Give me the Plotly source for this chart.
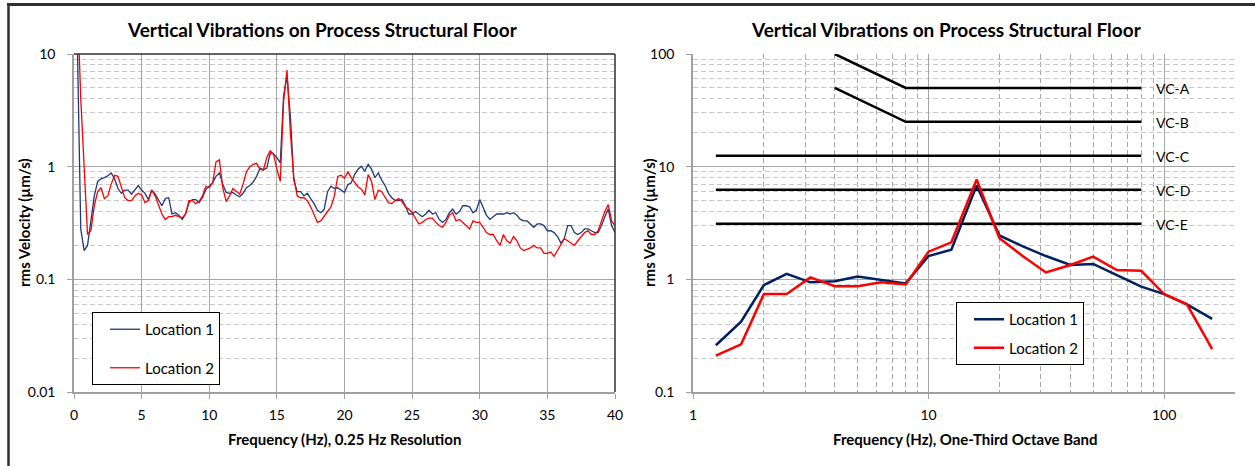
import math
import plotly.graph_objects as go

W, H = 1255, 466
def px(x):
    return x / W
def py(y):
    return 1 - y / H

# ---------------- data: narrow-band spectrum (0.25 Hz resolution) ----------------
freq_lin = [i * 0.25 for i in range(161)]
loc1_lin = [
    40, 12, 0.28, 0.18, 0.2, 0.33, 0.55, 0.74, 0.78, 0.8, 0.83, 0.88, 0.78, 0.64, 0.58, 0.62, 0.62, 0.57, 0.62, 0.68,   # 0-4.75
    0.62, 0.58, 0.51, 0.62, 0.57, 0.5, 0.45, 0.52, 0.53, 0.38, 0.39, 0.37, 0.34, 0.38, 0.48, 0.51, 0.51, 0.48, 0.53, 0.63,  # 5-9.75
    0.68, 0.72, 0.82, 0.88, 0.7, 0.59, 0.58, 0.59, 0.56, 0.54, 0.58, 0.65, 0.68, 0.73, 0.82, 0.97, 0.94, 0.97, 1.3, 1.3,  # 10-14.75
    1.2, 1.08, 4.3, 6.3, 2.8, 0.76, 0.6, 0.6, 0.55, 0.58, 0.52, 0.47, 0.41, 0.39, 0.42, 0.6, 0.67, 0.64, 0.65, 0.62,  # 15-19.75
    0.59, 0.69, 0.72, 0.85, 0.95, 1.01, 0.91, 1.05, 0.95, 0.8, 0.88, 0.76, 0.68, 0.58, 0.53, 0.5, 0.5, 0.51, 0.45, 0.38,  # 20-24.75
    0.38, 0.4, 0.38, 0.36, 0.38, 0.41, 0.38, 0.39, 0.34, 0.32, 0.34, 0.39, 0.42, 0.38, 0.4, 0.45, 0.45, 0.44, 0.39, 0.41,  # 25-29.75
    0.51, 0.44, 0.37, 0.34, 0.36, 0.38, 0.38, 0.38, 0.39, 0.38, 0.39, 0.37, 0.34, 0.33, 0.33, 0.31, 0.29, 0.31, 0.31, 0.3,  # 30-34.75
    0.27, 0.27, 0.26, 0.24, 0.21, 0.23, 0.3, 0.3, 0.26, 0.25, 0.26, 0.28, 0.28, 0.27, 0.26, 0.26, 0.3, 0.36, 0.42, 0.3,  # 35-39.75
    0.26,
]
loc2_lin = [
    40, 30, 4.0, 0.9, 0.25, 0.27, 0.45, 0.6, 0.65, 0.52, 0.55, 0.7, 0.84, 0.82, 0.65, 0.53, 0.5, 0.5, 0.55, 0.58,  # 0-4.75
    0.56, 0.48, 0.5, 0.62, 0.55, 0.46, 0.38, 0.34, 0.36, 0.36, 0.37, 0.36, 0.35, 0.38, 0.5, 0.5, 0.47, 0.49, 0.55, 0.67,  # 5-9.75
    0.65, 0.72, 1.1, 1.15, 0.65, 0.49, 0.55, 0.64, 0.6, 0.57, 0.7, 0.9, 1.0, 1.05, 1.07, 0.95, 0.93, 1.2, 1.38, 1.3,  # 10-14.75
    0.95, 0.74, 3.9, 7.2, 2.0, 0.8, 0.55, 0.53, 0.53, 0.5, 0.44, 0.38, 0.32, 0.33, 0.36, 0.4, 0.44, 0.55, 0.82, 0.84,  # 15-19.75
    0.79, 0.9, 0.8, 0.72, 0.66, 0.63, 0.56, 0.85, 0.74, 0.51, 0.62, 0.6, 0.53, 0.48, 0.47, 0.5, 0.52, 0.49, 0.44, 0.42,  # 20-24.75
    0.39, 0.35, 0.31, 0.32, 0.34, 0.35, 0.35, 0.32, 0.3, 0.29, 0.32, 0.37, 0.39, 0.33, 0.34, 0.32, 0.3, 0.28, 0.33, 0.32,  # 25-29.75
    0.32, 0.29, 0.26, 0.25, 0.25, 0.22, 0.2, 0.25, 0.22, 0.21, 0.24, 0.22, 0.19, 0.18, 0.185, 0.19, 0.2, 0.19, 0.19, 0.17,  # 30-34.75
    0.17, 0.175, 0.16, 0.18, 0.2, 0.23, 0.22, 0.21, 0.2, 0.22, 0.24, 0.26, 0.27, 0.25, 0.25, 0.27, 0.33, 0.4, 0.46, 0.33,  # 35-39.75
    0.3,
]

# ---------------- data: one-third octave band spectrum ----------------
band_freq = [1.25, 1.6, 2, 2.5, 3.15, 4, 5, 6.3, 8, 10, 12.5, 16, 20, 25, 31.5, 40, 50, 63, 80, 100, 125, 160]
loc1_band = [0.26, 0.42, 0.89, 1.12, 0.94, 0.96, 1.06, 0.99, 0.92, 1.61, 1.83, 6.8, 2.45, 1.97, 1.61, 1.34, 1.37, 1.09, 0.86, 0.74, 0.6, 0.445]
loc2_band = [0.21, 0.265, 0.74, 0.74, 1.04, 0.87, 0.87, 0.94, 0.9, 1.76, 2.13, 7.7, 2.32, 1.62, 1.15, 1.34, 1.59, 1.21, 1.19, 0.74, 0.6, 0.24]

# vibration criteria curves
vc_names = ["VC-A", "VC-B", "VC-C", "VC-D", "VC-E"]
vc_freqs = [[4, 8, 80], [4, 8, 80], [1.25, 80], [1.25, 80], [1.25, 80]]
vc_values = [[100, 50, 50], [50, 25, 25], [12.5, 12.5], [6.25, 6.25], [3.12, 3.12]]

title_text = "Vertical Vibrations on Process Structural Floor"
ytitle = "rms Velocity (µm/s)"
xtitle_left = "Frequency (Hz), 0.25 Hz Resolution"
xtitle_right = "Frequency (Hz), One-Third Octave Band"

FONT = "Lato, 'Open Sans', sans-serif"
NAVY_L = "#1f3a78"
NAVY_R = "#002060"
RED = "#ff0000"
MAJ = "#a6a6a6"
MIN = "#c8c8c8"
AX = "#a0a0a0"

fig = go.Figure()

fig.add_trace(go.Scatter(x=freq_lin, y=loc1_lin, mode="lines", name="Location 1",
                         line=dict(color=NAVY_L, width=1.3), xaxis="x", yaxis="y",
                         legend="legend", legendgroup="a"))
fig.add_trace(go.Scatter(x=freq_lin, y=loc2_lin, mode="lines", name="Location 2",
                         line=dict(color=RED, width=1.3), xaxis="x", yaxis="y",
                         legend="legend", legendgroup="b"))

for n, f, v in zip(vc_names, vc_freqs, vc_values):
    fig.add_trace(go.Scatter(x=f, y=v, mode="lines", name=n, showlegend=False,
                             line=dict(color="black", width=2.5), xaxis="x2", yaxis="y2"))
    fig.add_annotation(x=math.log10(f[-1]), y=math.log10(v[-1]), xref="x2", yref="y2", text=n,
                       showarrow=False, xanchor="left", yanchor="middle", xshift=13, yshift=-1,
                       font=dict(family=FONT, size=14, color="black"))

fig.add_trace(go.Scatter(x=band_freq, y=loc1_band, mode="lines", name="Location 1",
                         line=dict(color=NAVY_R, width=2.5), xaxis="x2", yaxis="y2",
                         legend="legend2", legendgroup="c"))
fig.add_trace(go.Scatter(x=band_freq, y=loc2_band, mode="lines", name="Location 2",
                         line=dict(color=RED, width=2.5), xaxis="x2", yaxis="y2",
                         legend="legend2", legendgroup="d"))

def dec_minor(lo, hi):
    out = []
    e = lo
    while e < hi:
        out += [m * 10 ** e for m in range(2, 10)]
        e += 1
    return out

tickfont = dict(family=FONT, size=14, color="black")
common = dict(showline=True, linecolor=AX, linewidth=1.5, ticks="outside", ticklen=5,
              tickcolor=AX, tickwidth=1, zeroline=False, tickfont=tickfont,
              gridcolor=MAJ, gridwidth=1, showgrid=True, automargin=False)

fig.update_layout(
    width=W, height=H, autosize=False,
    margin=dict(l=0, r=0, t=0, b=0, pad=0),
    paper_bgcolor="white", plot_bgcolor="white",
    font=dict(family=FONT, color="black"),
    xaxis=dict(domain=[px(74), px(615)], range=[0, 40], tickvals=[0, 5, 10, 15, 20, 25, 30, 35, 40],
               anchor="y", ticklabelstandoff=4, **common),
    yaxis=dict(domain=[py(392), py(54)], type="log", range=[-2, 1],
               tickvals=[0.01, 0.1, 1, 10], ticktext=["0.01", "0.1", "1", "10"],
               anchor="x", ticklabelstandoff=9,
               minor=dict(tickvals=dec_minor(-2, 1), showgrid=True, gridcolor=MIN,
                          griddash="5px,3px", gridwidth=1, ticks=""),
               **common),
    xaxis2=dict(domain=[px(693), px(1235)], type="log", range=[0, 2.30103],
                tickvals=[1, 10, 100], ticktext=["1", "10", "100"], anchor="y2",
                ticklabelstandoff=4,
                minor=dict(tickvals=dec_minor(0, 3)[:17], showgrid=True, gridcolor=MAJ,
                           griddash="5px,3px", gridwidth=1, ticks=""),
                **common),
    yaxis2=dict(domain=[py(392), py(54)], type="log", range=[-1, 2],
                tickvals=[0.1, 1, 10, 100], ticktext=["0.1", "1", "10", "100"],
                anchor="x2", ticklabelstandoff=9,
                minor=dict(tickvals=dec_minor(-1, 2), showgrid=True, gridcolor=MIN,
                           griddash="5px,3px", gridwidth=1, ticks=""),
                **common),
    legend=dict(x=px(92), y=py(312), xanchor="left", yanchor="top",
                bgcolor="white", bordercolor="black", borderwidth=1,
                font=dict(family=FONT, size=15, color="black"),
                tracegroupgap=16, indentation=12, itemwidth=30),
    legend2=dict(x=px(956), y=py(302), xanchor="left", yanchor="top",
                 bgcolor="white", bordercolor="black", borderwidth=1,
                 font=dict(family=FONT, size=15, color="black"),
                 tracegroupgap=6, indentation=12, itemwidth=30),
    showlegend=True,
)

# plot-area border (dark top/right) on the left chart
fig.add_shape(type="line", xref="x domain", yref="y domain", x0=0, x1=1, y0=1, y1=1,
              line=dict(color="#303030", width=1.5), layer="above")
fig.add_shape(type="line", xref="x domain", yref="y domain", x0=1, x1=1, y0=0, y1=1,
              line=dict(color="#303030", width=1.5), layer="above")
# chart-area outer frame (top and left edges)
fig.add_shape(type="line", xref="paper", yref="paper", x0=px(7), x1=1, y0=py(4.5), y1=py(4.5),
              line=dict(color="#303030", width=3), layer="above")
fig.add_shape(type="line", xref="paper", yref="paper", x0=px(8.5), x1=px(8.5), y0=0, y1=py(4),
              line=dict(color="#303030", width=2.5), layer="above")

ttl = dict(family=FONT, size=19, color="black")
axt = dict(family=FONT, size=15, color="black")
for cx in (322, 946):
    fig.add_annotation(x=px(cx), y=py(29), xref="paper", yref="paper", text="<b>" + title_text + "</b>",
                       showarrow=False, xanchor="center", yanchor="middle", font=ttl)
for cx in (24, 649):
    fig.add_annotation(x=px(cx), y=py(223), xref="paper", yref="paper", text="<b>" + ytitle + "</b>",
                       showarrow=False, xanchor="center", yanchor="middle", textangle=-90, font=axt)
fig.add_annotation(x=px(344), y=py(439), xref="paper", yref="paper", text="<b>" + xtitle_left + "</b>",
                   showarrow=False, xanchor="center", yanchor="middle", font=axt)
fig.add_annotation(x=px(965), y=py(439), xref="paper", yref="paper", text="<b>" + xtitle_right + "</b>",
                   showarrow=False, xanchor="center", yanchor="middle", font=axt)

fig.write_html("out.html", config={"displayModeBar": False},
               post_script="document.body.style.margin='0';document.body.style.overflow='hidden';")
